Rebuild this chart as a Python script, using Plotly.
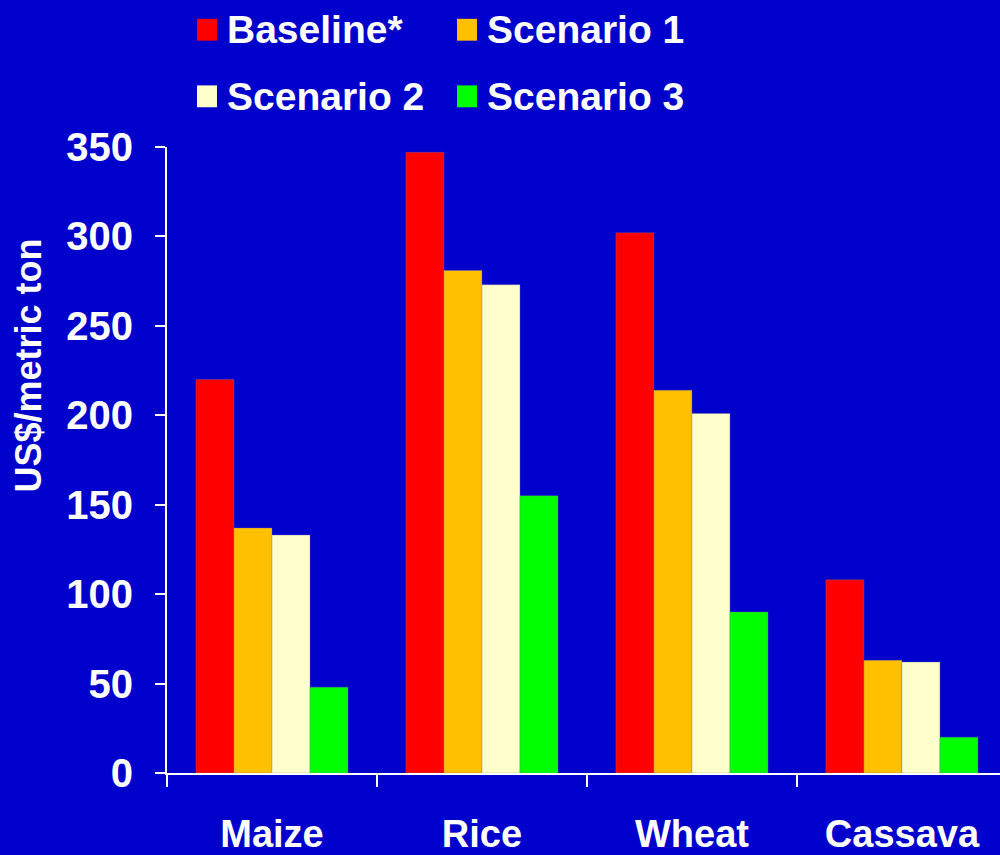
import plotly.graph_objects as go

crops = ["Maize", "Rice", "Wheat", "Cassava"]
series = ["Baseline*", "Scenario 1", "Scenario 2", "Scenario 3"]
baseline = [220, 347, 302, 108]
scenario1 = [137, 281, 214, 63]
scenario2 = [133, 273, 201, 62]
scenario3 = [48, 155, 90, 20]
colors = ["#FF0000", "#FFC000", "#FFFFCC", "#00FF00"]
y_ticks = [0, 50, 100, 150, 200, 250, 300, 350]

BG = "#0000CC"
FONT = "Liberation Sans, Arial, sans-serif"
W, H = 1000, 855
L, R, T, B = 167, 0, 147, 78
PW, PH = W - L - R, H - T - B


def px(x):
    return (x - L) / PW


def py(y):
    return (H - B - y) / PH


fig = go.Figure()
for name, vals, col in zip(series, [baseline, scenario1, scenario2, scenario3], colors):
    fig.add_trace(go.Bar(
        x=crops, y=vals, name=name,
        marker=dict(color=col, line=dict(width=0.6, color="rgba(120,120,150,0.6)")),
        showlegend=False,
    ))

# hand-made legend (big squares like the original)
legend_pos = [(197, 29), (457, 29), (197, 96), (457, 96)]
shapes = []
annotations = []
for (lx, ly), name, col in zip(legend_pos, series, colors):
    shapes.append(dict(type="rect", xref="paper", yref="paper",
                       x0=px(lx), x1=px(lx + 20), y0=py(ly - 11), y1=py(ly + 11),
                       fillcolor=col, line=dict(width=0)))
    annotations.append(dict(text=name, xref="paper", yref="paper",
                            x=px(lx + 28), y=py(ly), xanchor="left", yanchor="middle",
                            showarrow=False,
                            font=dict(family=FONT, size=39, color="white", weight="bold")))

annotations.append(dict(text="US$/metric ton", xref="paper", yref="paper",
                        x=px(29), y=py(367), textangle=-90, showarrow=False,
                        xanchor="center", yanchor="middle",
                        font=dict(family=FONT, size=36, color="white", weight="bold")))

fig.update_layout(
    width=W, height=H,
    paper_bgcolor=BG, plot_bgcolor=BG,
    margin=dict(l=L, r=R, t=T, b=B),
    barmode="group", bargap=0.276, bargroupgap=0,
    shapes=shapes, annotations=annotations,
    font=dict(family=FONT, color="white", weight="bold"),
)
fig.update_xaxes(
    range=[-0.5, 3.467], showgrid=False, showline=True, linecolor="white", linewidth=2,
    ticks="outside", tickson="boundaries", ticklen=12, tickwidth=2, tickcolor="white",
    ticklabelstandoff=26,
    tickfont=dict(family=FONT, size=38, color="white", weight="bold"),
)
fig.update_yaxes(
    range=[0, 350], tickvals=y_ticks, showgrid=False, zeroline=False,
    showline=True, linecolor="white", linewidth=2,
    ticks="outside", ticklen=10, tickwidth=2, tickcolor="white",
    ticklabelstandoff=14,
    tickfont=dict(family=FONT, size=40, color="white", weight="bold"),
)

fig.write_html("out.html", config={"displayModeBar": False},
               post_script="document.body.style.margin='0';document.body.style.overflow='hidden';")
